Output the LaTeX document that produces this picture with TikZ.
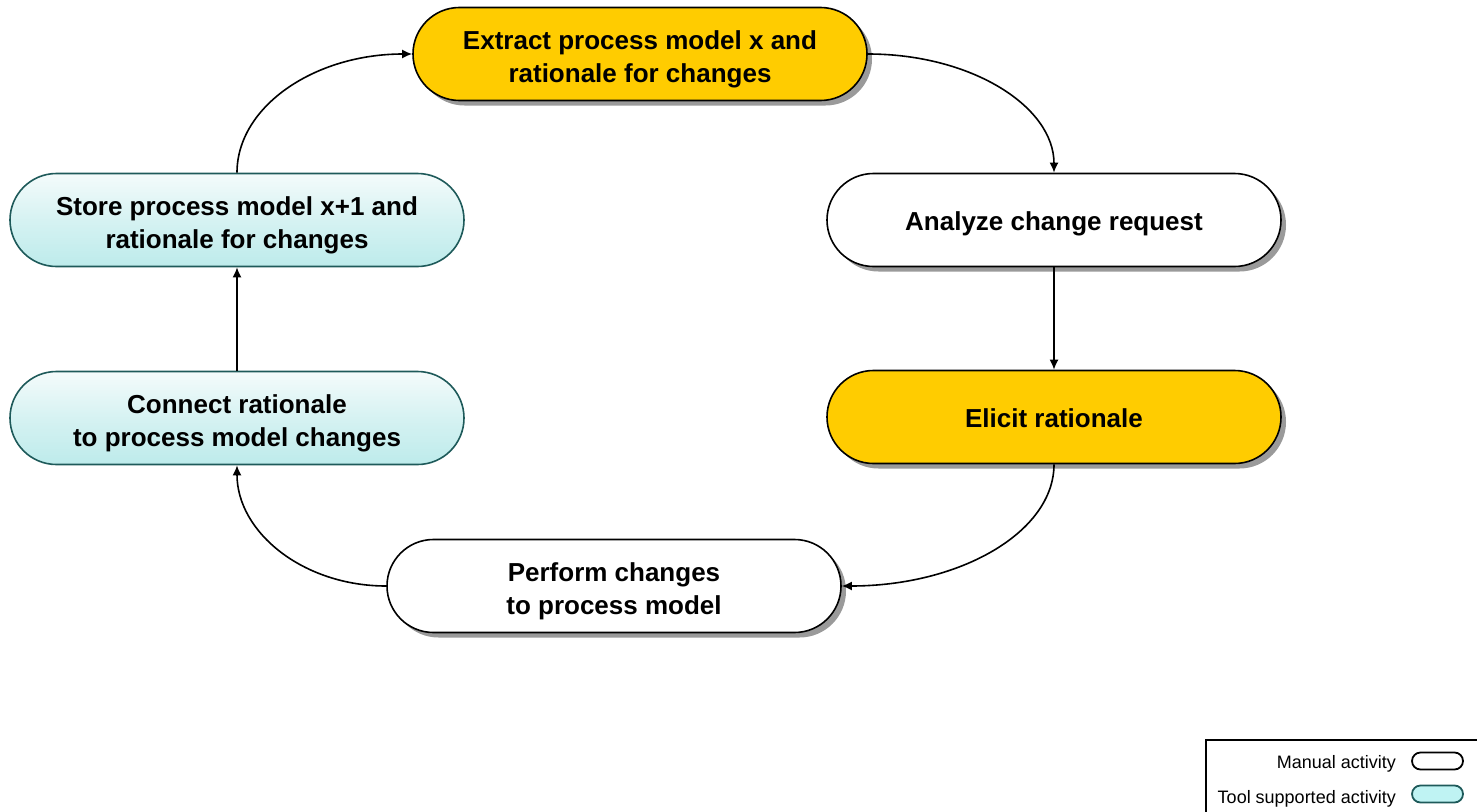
\documentclass[tikz,border=0pt]{standalone}
\usepackage{fontspec}
\setmainfont{Liberation Sans}
\usetikzlibrary{arrows.meta,shadows}
\definecolor{procyellow}{HTML}{FFCC00}
\definecolor{tealtop}{HTML}{F4FBFB}
\definecolor{tealbot}{HTML}{BDEBEB}
\definecolor{tealborder}{HTML}{1E5A5A}
\definecolor{legendteal}{HTML}{BFF3F3}
\definecolor{shadowgray}{HTML}{9A9A9A}
\tikzset{
  proc/.style={rounded corners=46.5pt, minimum width=454pt, minimum height=93pt,
    draw, line width=1.6pt, align=center, inner sep=0pt, text depth=0pt,
    font=\bfseries\fontsize{26}{33}\selectfont},
  oneline/.style={text height=21pt},
  twoline/.style={text height=56pt},
  manual/.style={proc, fill=white,
    drop shadow={shadow xshift=5pt, shadow yshift=-5pt, fill=shadowgray, opacity=1}},
  highlight/.style={proc, fill=procyellow,
    drop shadow={shadow xshift=5pt, shadow yshift=-5pt, fill=shadowgray, opacity=1}},
  tool/.style={proc, draw=tealborder, top color=tealtop, bottom color=tealbot, middle color=tealbot!55!tealtop},
  conn/.style={line width=1.6pt, -{Latex[length=10pt,width=9pt]}},
  legendtext/.style={font=\fontsize{18}{20}\selectfont, anchor=base east, inner sep=0pt},
  legendpill/.style={rounded corners=8.5pt, minimum width=51pt, minimum height=17pt, inner sep=0pt, line width=1.8pt}
}
\begin{document}
\begin{tikzpicture}[x=1pt,y=-1pt]
\useasboundingbox (0,0) rectangle (1477,811);
\node[highlight, twoline] (extract) at (640,54) {Extract process model x and\\rationale for changes};
\node[manual, oneline] (analyze) at (1054,220) {Analyze change request};
\node[highlight, oneline] (elicit) at (1054,417) {Elicit rationale};
\node[manual, twoline] (perform) at (614,586) {Perform changes\\to process model};
\node[tool, twoline] (connect) at (237,418) {Connect rationale\\to process model changes};
\node[tool, twoline] (store) at (237,220) {Store process model x+1 and\\rationale for changes};

\draw[conn] (store.north) .. controls +(0,-66) and +(-98,0) .. (extract.west);
\draw[conn] (extract.east) .. controls +(104,0) and +(0,-66) .. (analyze.north);
\draw[conn] (analyze.south) -- (elicit.north);
\draw[conn] (elicit.south) .. controls +(0,68) and +(118,0) .. (perform.east);
\draw[conn] (perform.west) .. controls +(-83,0) and +(0,67) .. (connect.south);
\draw[conn] (connect.north) -- (store.south);

% legend
\node[draw, line width=2pt, minimum width=280pt, minimum height=80pt, anchor=north west, inner sep=0pt] (legend) at (1205,739) {};
\node[legendtext] (lmanual) at (1396,768) {Manual activity};
\node[legendtext] (ltool) at (1396,803) {Tool supported activity};
\node[legendpill, draw=black, fill=white] (pmanual) at (1437.5,761) {};
\node[legendpill, draw=tealborder, fill=legendteal] (ptool) at (1437.5,794) {};
\end{tikzpicture}
\end{document}
